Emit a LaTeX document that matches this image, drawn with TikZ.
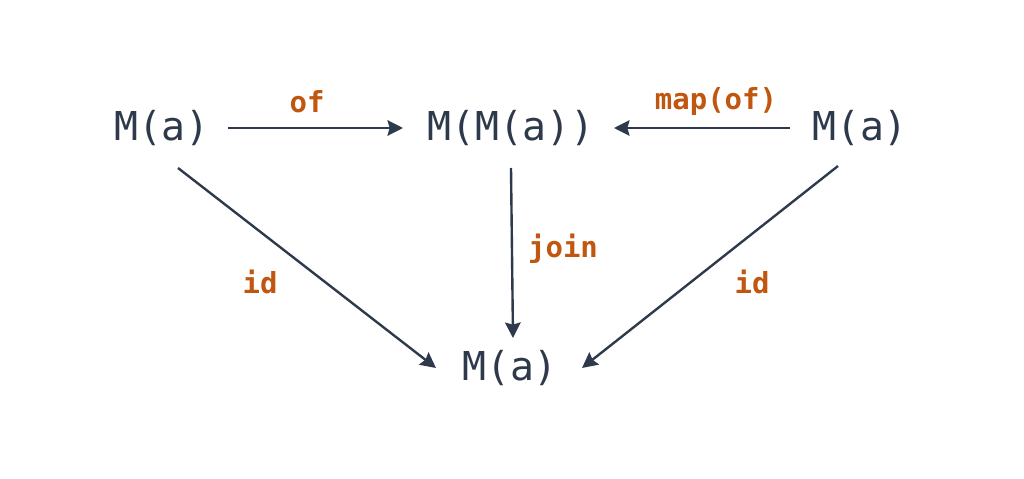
\documentclass[tikz,border=0pt]{standalone}
\usepackage{fontspec}
\setmonofont{DejaVu Sans Mono}
\usetikzlibrary{calc,arrows.meta}
\definecolor{ink}{HTML}{2E3A4C}
\definecolor{lbl}{HTML}{C0560F}
\tikzset{
  obj/.style={font=\ttfamily\fontsize{28.3}{30}\selectfont, text=ink, inner sep=0pt},
  lab/.style={font=\ttfamily\bfseries\fontsize{20.6}{22}\selectfont, text=lbl, inner sep=0pt},
  arr/.style={draw=ink, line width=1.7pt, -{Stealth[length=11pt,width=11pt,inset=1.5pt]}}
}
\begin{document}
\begin{tikzpicture}[x=0.025cm,y=-0.025cm]
\useasboundingbox (0,0) rectangle (1024,479);
\node[obj] (L) at (162,128) {M(a)};
\node[obj] (C) at (511,128) {M(M(a))};
\node[obj] (R) at (860,128) {M(a)};
\node[obj] (B) at (510,368) {M(a)};
\draw[arr] ($(L)+(66,0)$) -- ($(C)+(-108,0)$);
\draw[arr] ($(R)+(-70,0)$) -- ($(C)+(103,0)$);
\draw[arr] ($(C)+(0,40)$) -- ($(B)+(3,-30)$);
\draw[arr] ($(L)+(16,40)$) -- ($(B)+(-74,0)$);
\draw[arr] ($(R)+(-22,38)$) -- ($(B)+(72,0)$);
\node[lab] (lof) at (307,102) {of};
\node[lab] (lmap) at (716,102) {map(of)};
\node[lab] (ljoin) at (563,249) {join};
\node[lab] (lid1) at (260,282) {id};
\node[lab] (lid2) at (752,282) {id};
\end{tikzpicture}
\end{document}
